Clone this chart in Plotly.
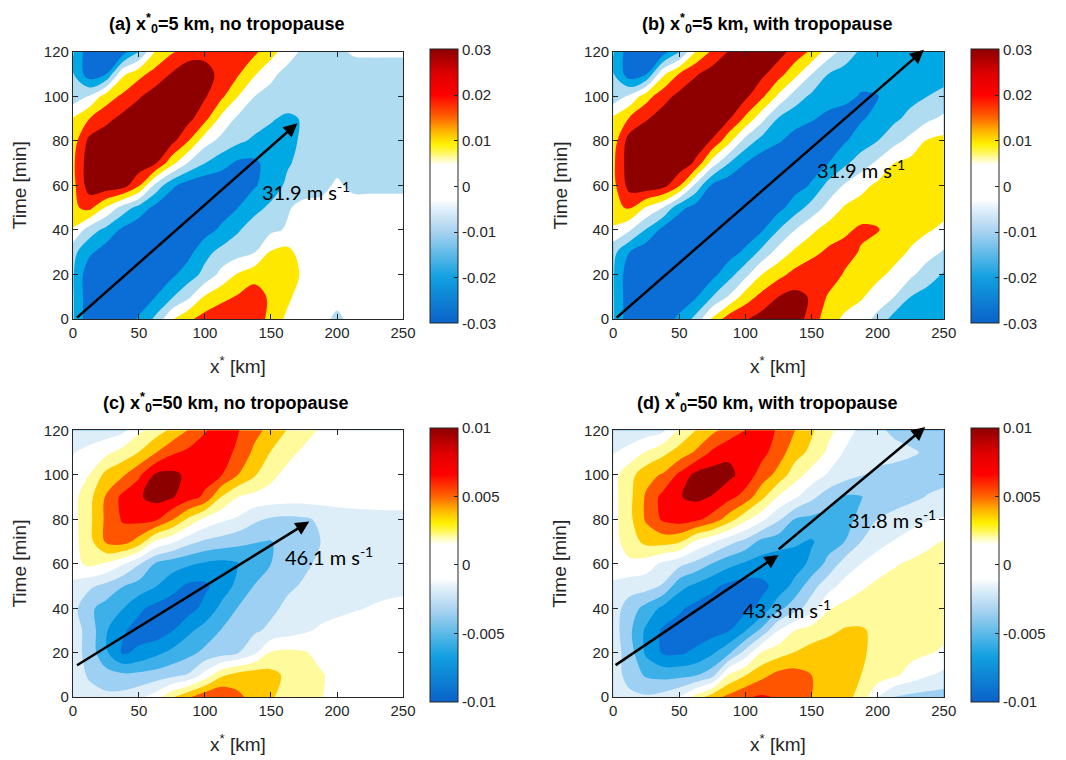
import numpy as np
import plotly.graph_objects as go

# ---------------- data ----------------
x_km = [0, 12.5, 25, 37.5, 50, 62.5, 75, 87.5, 100, 112.5, 125, 137.5,
        150, 162.5, 175, 187.5, 200, 212.5, 225, 237.5, 250]
t_min = [0, 10, 20, 30, 40, 50, 60, 70, 80, 90, 100, 110, 120]

# field values in units of 1e-3 ; one row per time (t_min), one column per x_km
w_a = [
    [-14, -32, -33, -30, -24, -13, 4, 13, 19, 22, 22, 22, 11, 3, 0, 0, -8, 0, 0, 0, 0],
    [-14, -32, -33, -33, -30, -25, -16, -7, 6, 12, 16, 20, 13, 7, 0, 0, 0, 0, 0, 0, 0],
    [-14, -32, -34, -34, -34, -32, -27, -20, -12, -2, 6, 11, 12, 10, 3, 0, 0, 0, 0, 0, 0],
    [-12, -23, -30, -33, -34, -34, -33, -28, -18, -12, -9, -5.5, 6, 8, 0, 0, 0, 0, 0, 0, 0],
    [4, -10, -18, -27, -32, -34, -34, -33, -29, -23, -16, -10, -7, -4, 0, 0, 0, 0, 0, 0, 0],
    [13, 18, 4, -9, -19, -28, -33, -34, -33, -30, -25, -18, -13, -6, -2, -1, 0, 0, 0, 0, 0],
    [12, 30, 32, 30, 16, -8, -23, -30, -33, -33, -31, -26, -20, -13, -10, -9, -3, -8, -8, -8, -8],
    [13, 31, 34, 34, 32, 26, 8, -6, -15, -21, -27, -27, -21, -16, -12, -10, -9, -9, -9, -8, -8],
    [10, 28, 32, 34, 34, 32, 28, 15, -1, -8, -13, -17, -19, -18, -13, -10, -9, -9, -9, -8, -8],
    [6, 15, 22, 28, 32, 33, 32, 28, 18, 2, -7, -10, -14, -17, -14, -10, -9, -9, -8, -8, -8],
    [-11, -4, 10, 17, 24, 30, 32, 31, 26, 17, 5, -5, -8, -9, -9, -9, -9, -9, -9, -8, -8],
    [-14, -31, -25, 3, 12, 19, 26, 32, 29, 22, 16, 6, -3, -8, -9, -9, -9, -9, -8, -8, -8],
    [-14, -32, -34, -30, -15, 6, 14, 20, 22, 22, 21, 17, 9, -1, -7, -8, -7, -4, -4, -4, -4],
]

w_b = [
    [-14, -32, -33, -30, -23, -12, 7, 20, 24, 29, 31, 31, 20, 10, 3, 0, -8, -19, -20, -20, -20],
    [-14, -32, -34, -34, -31, -26, -15, -4, 10, 18, 25, 28, 24, 14, 10, 6, 1, -5, -15, -19, -20],
    [-14, -32, -34, -34, -34, -32, -28, -19, -8, 5, 12, 18, 22, 21, 14, 10, 7, 3, -3, -10, -16],
    [-12, -25, -32, -34, -34, -34, -33, -29, -23, -12, -1, 7, 12, 17, 19, 14, 11, 8, 4, -1, -6],
    [3, -4, -16, -28, -33, -34, -34, -34, -31, -26, -15, -5, 3, 9, 13, 17, 15.5, 11, 8, 6, 3],
    [13, 16, 4, -5, -22, -29, -33, -34, -34, -32, -28, -20, -11, -2, 6, 9, 12, 11, 10, 9, 8],
    [12, 29, 32, 29, 16, -8, -27, -32, -34, -34, -32, -29, -24, -12, -4, 2, 7, 9, 10, 10, 10],
    [13, 31, 34, 34, 32, 23, 0, -15, -25, -31, -34, -33, -29, -25, -17, -10, -3, 5, 8, 9, 9],
    [10, 30, 34, 35, 34, 31, 24, 8, -9, -19, -24, -29, -32, -30, -26, -20, -15, -8, -2, 6, 8],
    [7, 16, 24, 30, 34, 35, 33, 26, 13, -2, -16, -21, -24, -28, -30, -26, -22, -17, -12, -7, -3],
    [-11, -3, 11, 21, 28, 33, 35, 32, 27, 17, 3, -10, -17, -20, -22, -26, -25.5, -20, -18, -15, -12],
    [-14, -31, -25, 3, 16, 24, 30, 34, 33, 27, 19, 8, -5, -15, -19, -21, -21, -21, -20, -20, -19],
    [-14, -32, -34, -30, -16, 6, 17, 26, 31, 33, 29, 21, 13, 0, -9, -17, -20, -21, -21, -21, -21],
]

w_c = [
    [-1.5, -2.2, -2.5, -2.3, -1.5, 0, 2.8, 4.8, 6.5, 7.1, 5.5, 4.2, 3.2, 2.3, 1.8, 1.1, 0.4, 0, 0, 0, 0],
    [-1.8, -3.3, -4.2, -4.6, -4.5, -4.2, -3.6, -2.8, -0.3, 2.6, 3.8, 4.2, 3.6, 2.6, 2, 1.2, 0.4, 0, 0, 0, 0],
    [-2, -3.8, -6.6, -9.3, -8.6, -7.5, -6.5, -5.6, -4.5, -3.9, -3.1, -1.4, 1.3, 1.5, 1.2, 0.4, 0, 0, 0, 0, 0],
    [-2, -3.8, -6.8, -8.7, -9.8, -10.3, -9.1, -7.4, -6.2, -4.9, -4.2, -3.3, -2.6, -1.9, -1.3, -0.7, -0.3, 0, 0, 0, 0],
    [-2.3, -4.6, -5.8, -6.9, -8.6, -9.6, -10.2, -9.8, -8.4, -6.5, -4.9, -4.2, -3.4, -2.6, -2.1, -1.8, -1.5, -1.2, -0.9, -0.6, -0.4],
    [-1.5, -2.6, -3.6, -4.9, -5.8, -6.9, -8.2, -9.4, -9.4, -8, -6.5, -4.9, -4.1, -3.3, -2.8, -2.4, -2.1, -1.9, -1.7, -1.6, -1.5],
    [0.3, 1.5, 0.8, -0.7, -2.8, -5.2, -6.1, -6.7, -7.3, -7.6, -7.1, -6.2, -5, -4, -3.3, -2.7, -2.3, -2, -1.8, -1.7, -1.6],
    [0.3, 2.3, 5.3, 5.9, 4.2, 0.7, -0.6, -2.3, -3.3, -3.8, -4.4, -4.9, -5.1, -4.3, -3.6, -3, -2.6, -2.3, -2.1, -2, -1.9],
    [0.3, 2.5, 5.4, 7.2, 7.6, 7.4, 5.2, 2.6, 0.5, -0.6, -1.3, -2.6, -3.3, -3.5, -3.3, -2.7, -2.2, -1.9, -1.8, -1.7, -1.7],
    [0.3, 2.4, 5.2, 7.5, 8.8, 9.6, 9.2, 7.9, 6.6, 2.9, 1, 0.4, 0.2, 0, 0, 0, 0, 0, 0, 0, 0],
    [-0.2, 1, 3.6, 4.7, 6.6, 9.3, 9.5, 8.6, 7.8, 7.1, 5, 3.2, 1.5, 0.4, 0, 0, 0, 0, 0, 0, 0],
    [-1.1, -0.3, 0.5, 1.8, 3.1, 4.9, 6.7, 7.5, 7.7, 7.6, 6.7, 4.5, 2.9, 1.6, 0.6, 0.1, 0, 0, 0, 0, 0],
    [-2.6, -2.4, -2, -1.5, 0.6, 2, 3.4, 5.1, 6.9, 7.6, 7.1, 5.7, 4.3, 2.9, 1.8, 0.8, 0.3, 0, 0, 0, 0],
]

w_d = [
    [-1.8, -2.5, -2.7, -2.2, -1, 1.8, 4.2, 5.6, 6.8, 7.3, 6.8, 6, 5, 4.2, 3.6, 2.4, -1, -3.2, -3.6, -3.8, -3.9],
    [-2, -3.8, -5.3, -5.7, -5.6, -5.2, -3.8, 1.2, 2.9, 4.4, 5.6, 5.8, 5, 4.3, 3.6, 3, 2.2, 1.4, 0.2, -0.8, -1.5],
    [-2, -4, -7.4, -9.2, -9.3, -8.6, -7.3, -5.4, -2.2, 1.3, 2.2, 3.1, 3.8, 4.2, 4, 3.2, 2.6, 2, 1.6, 1.2, 0.7],
    [-2, -4.6, -7.4, -9.3, -9.8, -10.1, -9.8, -9.1, -7.1, -4.4, -1, 1, 1.9, 2.5, 3.2, 3.2, 2.6, 2.2, 1.9, 1.6, 1.5],
    [-2, -4, -5.7, -7.5, -8.7, -9.6, -10, -10, -9.6, -8.4, -5.6, -3.8, -1.9, 0.8, 1.6, 2, 2.3, 2.3, 2.2, 2, 1.9],
    [-1.5, -2.1, -2.2, -3.2, -6.3, -7.5, -8.6, -9.5, -9.9, -9.5, -8.3, -6.3, -3.8, -1.8, -0.3, 0.7, 1.4, 1.8, 2, 2, 2],
    [0.4, 0.6, 0, -1.4, -2.4, -3.6, -5.1, -6.4, -7.3, -7.9, -8.2, -8, -6.5, -4.4, -2.2, -1, 0.1, 0.8, 1.3, 1.6, 1.7],
    [0.3, 2, 3.6, 3.8, 3.3, 0.7, -0.7, -2.3, -3.6, -5.6, -6.2, -6.7, -7.2, -6, -5, -3, -1.8, -0.9, -0.2, 0.6, 1.1],
    [0.3, 2.5, 5.3, 7.3, 7.9, 7.5, 6.2, 4, 1.5, -0.5, -2.7, -5.1, -5.5, -5.7, -5.6, -4.5, -3, -2.3, -1.7, -1.2, -0.8],
    [0.3, 2.5, 5.3, 7.6, 8.9, 9.4, 8.9, 7.6, 6.2, 3.5, 0.8, -0.7, -2.5, -4.1, -5.3, -5.1, -4.4, -4, -3.5, -2.9, -2.4],
    [0.3, 2.3, 4.3, 5.2, 7.4, 9.6, 10, 9.5, 8.2, 6.1, 4.3, 1.9, 0.2, -1.2, -2.1, -2.9, -3.4, -3.6, -3.7, -3.8, -3.8],
    [-1.1, -0.2, 1.2, 2.5, 3.8, 5.3, 7.4, 8.6, 8.7, 7.6, 6, 3.8, 2.5, 0.6, -1.2, -1.9, -2.3, -2.5, -2.8, -3.2, -3.4],
    [-2.6, -2.4, -2, -1.4, 1.4, 3, 4.5, 5.8, 7, 7.8, 6.8, 5, 3.3, 1.6, 0, -1.5, -2.7, -3.3, -3.6, -3.8, -3.9],
]

panel_titles = [
    "<b>(a) x<sup>*</sup><sub>0</sub>=5 km, no tropopause</b>",
    "<b>(b) x<sup>*</sup><sub>0</sub>=5 km, with tropopause</b>",
    "<b>(c) x<sup>*</sup><sub>0</sub>=50 km, no tropopause</b>",
    "<b>(d) x<sup>*</sup><sub>0</sub>=50 km, with tropopause</b>",
]

# phase-speed arrows: (x_start, t_start, x_end, t_end) and labels (x_left, t, text)
arrows = [
    [(2, 0, 170, 88)],
    [(1.5, 0, 235, 121)],
    [(2, 14, 179, 79)],
    [(0.7, 14, 125, 64), (124, 66, 236, 121.5)],
]
speed_labels = [
    [(142, 57.5, "31.9")],
    [(153, 67.5, "31.9")],
    [(159, 63.3, "46.1")],
    [(176, 80.2, "31.8"), (97, 39.8, "43.3")],
]

cbar_ticks_ab = [-0.03, -0.02, -0.01, 0, 0.01, 0.02, 0.03]
cbar_text_ab = ["-0.03", "-0.02", "-0.01", "0", "0.01", "0.02", "0.03"]
cbar_ticks_cd = [-0.01, -0.005, 0, 0.005, 0.01]
cbar_text_cd = ["-0.01", "-0.005", "0", "0.005", "0.01"]

# ---------------- styling ----------------
W, H = 1066, 760
FONT = "Liberation Sans, Arial, Helvetica, sans-serif"
LFONT = "Lato, Open Sans, sans-serif"
INK = "#262626"

fill_ab = ["#0A6ED6", "#00A8E4", "#B0DCF2", "#FFFFFF", "#FFE800", "#FF2200", "#8E0000"]
fill_cd = ["#0A6ED6", "#0094E0", "#3DB0EA", "#9DD0F2", "#DDEEF9", "#FFFFFF",
           "#FFFA9C", "#FFC800", "#FF5500", "#FF0000", "#8C0000"]


def discrete_scale(cols):
    n = len(cols) - 1
    return [[i / n, c] for i, c in enumerate(cols)]


cbar_scale = [
    [0.0, "#0A62C8"], [0.167, "#12A0E0"], [0.333, "#A8D2F0"], [0.417, "#E2F0FA"],
    [0.45, "#FFFFFF"], [0.575, "#FFFFFF"], [0.6, "#FFFBB0"], [0.625, "#FFF650"],
    [0.653, "#FFF000"], [0.70, "#FFB400"], [0.75, "#FF6400"], [0.783, "#FF3C00"],
    [0.833, "#FF0000"], [0.908, "#E00000"], [1.0, "#8C0000"],
]

# pixel geometry -> paper fractions
ax_x_px = [(70, 405.5), (619, 955), (70, 405.5), (619, 955)]
ax_y_px = [(44, 317), (44, 317), (431, 704), (431, 704)]
cb_left_px = [433, 982.5, 433, 982.5]


def px_x(p):
    return p / W


def px_y(p):
    return 1 - p / H


fields = [w_a, w_b, w_c, w_d]
fig = go.Figure()
annotations = []
layout_axes = {}

for i in range(4):
    sfx = "" if i == 0 else str(i + 1)
    xa, ya = "x" + sfx, "y" + sfx
    ab = i < 2
    z = np.array(fields[i], dtype=float) * 1e-3
    if ab:
        contours = dict(start=-0.025, end=0.025, size=0.01, coloring="fill", showlines=False)
        cs = discrete_scale(fill_ab)
        cmin, cmax = -0.03, 0.03
        tv, tt = cbar_ticks_ab, cbar_text_ab
    else:
        contours = dict(start=-0.009, end=0.009, size=0.002, coloring="fill", showlines=False)
        cs = discrete_scale(fill_cd)
        cmin, cmax = -0.01, 0.01
        tv, tt = cbar_ticks_cd, cbar_text_cd

    fig.add_trace(go.Contour(
        x=x_km, y=t_min, z=z, autocontour=False, contours=contours,
        colorscale=cs, showscale=False, line=dict(width=0),
        hoverinfo="skip", xaxis=xa, yaxis=ya))

    x0p, x1p = ax_x_px[i]
    y0p, y1p = ax_y_px[i]
    # gradient colorbar
    fig.add_trace(go.Scatter(
        x=[None], y=[None], mode="markers", xaxis=xa, yaxis=ya, hoverinfo="skip",
        showlegend=False,
        marker=dict(color=[0], colorscale=cbar_scale, cmin=cmin, cmax=cmax, showscale=True,
                    colorbar=dict(
                        x=px_x(cb_left_px[i]), xanchor="left", xpad=0,
                        y=px_y((y0p + y1p) / 2 + 1), yanchor="middle", ypad=0,
                        len=y1p - y0p + 1, lenmode="pixels",
                        thickness=28, thicknessmode="pixels",
                        outlinewidth=1, outlinecolor=INK,
                        tickvals=tv, ticktext=tt, ticks="inside", ticklen=4,
                        tickcolor=INK, tickwidth=1,
                        tickfont=dict(family=FONT, size=15, color=INK)))))

    axis_common = dict(showline=True, linecolor=INK, linewidth=1, mirror="ticks",
                       ticks="inside", ticklen=5, tickwidth=1, tickcolor=INK,
                       showgrid=False, zeroline=False,
                       tickfont=dict(family=FONT, size=15, color=INK))
    layout_axes["xaxis" + sfx] = dict(axis_common, domain=[px_x(x0p), px_x(x1p)],
                                      range=[0, 250], tickvals=[0, 50, 100, 150, 200, 250],
                                      anchor=ya)
    layout_axes["yaxis" + sfx] = dict(axis_common, domain=[px_y(y1p), px_y(y0p)],
                                      range=[0, 120], tickvals=[0, 20, 40, 60, 80, 100, 120],
                                      anchor=xa)

    # panel title
    annotations.append(dict(text=panel_titles[i], xref="paper", yref="paper",
                            x=px_x((x0p + x1p) / 2 - 12), y=px_y(y0p - 29),
                            xanchor="center", yanchor="middle", showarrow=False,
                            font=dict(family=FONT, size=18, color="black")))
    # axis labels
    annotations.append(dict(text="x<sup>*</sup> [km]", xref="paper", yref="paper",
                            x=px_x((x0p + x1p) / 2), y=px_y(y1p + 47),
                            xanchor="center", yanchor="middle", showarrow=False,
                            font=dict(family=FONT, size=19, color=INK)))
    annotations.append(dict(text="Time [min]", xref="paper", yref="paper",
                            x=px_x(x0p - 54), y=px_y((y0p + y1p) / 2),
                            xanchor="center", yanchor="middle", showarrow=False,
                            textangle=-90, font=dict(family=FONT, size=19, color=INK)))
    # arrows
    for (xs, ts, xe, te) in arrows[i]:
        annotations.append(dict(x=xe, y=te, ax=xs, ay=ts, xref=xa, yref=ya,
                                axref=xa, ayref=ya, text="", showarrow=True,
                                arrowhead=2, arrowsize=1.1, arrowwidth=2.5,
                                arrowcolor="black", standoff=0, startstandoff=0))
    for (xl, tl, txt) in speed_labels[i]:
        annotations.append(dict(x=xl, y=tl, xref=xa, yref=ya, xanchor="left",
                                yanchor="middle", showarrow=False,
                                text=txt + " m s<sup>-1</sup>",
                                font=dict(family=LFONT, size=20, color="black")))

fig.update_layout(
    width=W, height=H, margin=dict(l=0, r=0, t=0, b=0),
    paper_bgcolor="white", plot_bgcolor="white", showlegend=False,
    annotations=annotations, **layout_axes)

fig.write_html("out.html")
